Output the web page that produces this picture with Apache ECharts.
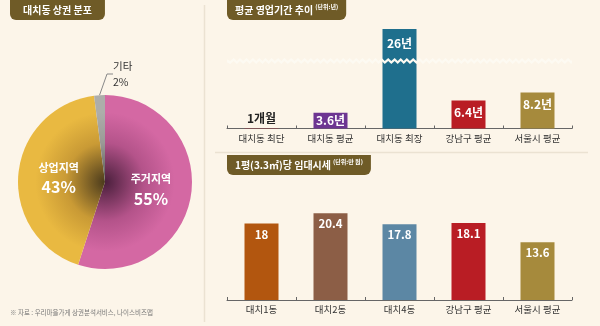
<!DOCTYPE html>
<html><head><meta charset="utf-8">
<script src="https://cdn.jsdelivr.net/npm/echarts@6/dist/echarts.min.js"></script>
<style>html,body{margin:0;padding:0;background:#fcf5e9;}#c{width:600px;height:326px;}</style>
</head><body><div id="c"></div>
<script>
const pieCategories = ['주거지역', '상업지역', '기타'];
const pieValues = [55, 43, 2];
const periodCategories = ['대치동 최단', '대치동 평균', '대치동 최장', '강남구 평균', '서울시 평균'];
const periodValues = [0.083, 3.6, 26, 6.4, 8.2];
const periodLabels = ['1개월', '3.6년', '26년', '6.4년', '8.2년'];
const rentCategories = ['대치1동', '대치2동', '대치4동', '강남구 평균', '서울시 평균'];
const rentValues = [18, 20.4, 17.8, 18.1, 13.6];

const F = "'Noto Sans CJK KR', sans-serif";
const BG = '#fcf5e9';
const periodColors = ['#c3262e', '#6d3592', '#1f6f8d', '#b91d24', '#a68a3c'];
const rentColors = ['#b2560f', '#8c5e46', '#5c87a4', '#b91d24', '#a68a3c'];
const pieColors = [['#4a1f3c', '#b4538a', '#d468a3'], ['#4a3a1c', '#c99a35', '#e9b941'], ['#5a5a55', '#9a9a96', '#adadaa']];

const chart = echarts.init(document.getElementById('c'), null, {renderer: 'canvas'});
const cx = 105, cy = 182, R = 87;

const titleBox = {backgroundColor: '#6f5b27', borderRadius: [0, 0, 6, 6]};
const option = {
  backgroundColor: BG,
  animation: false,
  title: [
    Object.assign({text: '대치동 상권 분포', left: 10, top: 0, padding: [4, 13, 4, 13],
      textStyle: {color: '#fff', fontSize: 10, fontWeight: 'bold', fontFamily: F, lineHeight: 12}}, titleBox),
    Object.assign({text: '평균 영업기간 추이{u|(단위:년)}', left: 227, top: 0, padding: [4, 8, 4, 8],
      textStyle: {color: '#fff', fontSize: 10, fontWeight: 'bold', fontFamily: F, lineHeight: 12,
        rich: {u: {fontSize: 6, color: '#fff', fontFamily: F, verticalAlign: 'top', padding: [0, 0, 4, 2]}}}}, titleBox),
    Object.assign({text: '1평(3.3㎡)당 임대시세{u|(단위:만 원)}', left: 227, top: 155, padding: [4, 8, 4, 8],
      textStyle: {color: '#fff', fontSize: 10, fontWeight: 'bold', fontFamily: F, lineHeight: 12,
        rich: {u: {fontSize: 6, color: '#fff', fontFamily: F, verticalAlign: 'top', padding: [0, 0, 4, 2]}}}}, titleBox),
    {text: '※ 자료 : 우리마을가게 상권분석서비스, 나이스비즈맵', left: 10, top: 309, padding: 0,
      textStyle: {color: '#777', fontSize: 6.5, fontWeight: 'normal', fontFamily: F}}
  ],
  graphic: [
    {type: 'line', shape: {x1: 204.5, y1: 5, x2: 204.5, y2: 322}, style: {stroke: '#ebe2d2', lineWidth: 1.5}, silent: true},
    {type: 'line', shape: {x1: 215, y1: 152.5, x2: 588, y2: 152.5}, style: {stroke: '#ebe2d2', lineWidth: 1.5}, silent: true}
  ],
  grid: [
    {left: 227, right: 28, top: 29, bottom: 197.5},
    {left: 227, right: 28, top: 198, bottom: 26}
  ],
  xAxis: [
    {type: 'category', gridIndex: 0, data: periodCategories,
      axisLine: {lineStyle: {color: '#666', width: 1}},
      axisTick: {show: true, inside: true, length: 3, lineStyle: {color: '#666'}},
      axisLabel: {color: '#333', fontSize: 9.5, fontFamily: F, margin: 5}},
    {type: 'category', gridIndex: 1, data: rentCategories,
      axisLine: {lineStyle: {color: '#666', width: 1}},
      axisTick: {show: true, inside: true, length: 3, lineStyle: {color: '#666'}},
      axisLabel: {color: '#333', fontSize: 9.5, fontFamily: F, margin: 5}}
  ],
  yAxis: [
    {type: 'value', gridIndex: 0, min: 0, max: 26,
      breaks: [{start: 15, end: 19, gap: '3%'}],
      breakArea: {show: true, itemStyle: {color: '#fdfaf2', borderColor: 'transparent', borderWidth: 0, opacity: 1},
        zigzagAmplitude: 1.5, zigzagMinSpan: 3, zigzagMaxSpan: 3.5, expandOnClick: false},
      axisLine: {show: false}, axisTick: {show: false}, axisLabel: {show: false}, splitLine: {show: false}},
    {type: 'value', gridIndex: 1, min: 0, max: 24,
      axisLine: {show: false}, axisTick: {show: false}, axisLabel: {show: false}, splitLine: {show: false}}
  ],
  series: [
    {
      type: 'pie', center: [cx, cy], radius: [0, R], startAngle: 90, clockwise: true,
      data: pieCategories.map((n, i) => ({
        name: n, value: pieValues[i],
        itemStyle: {color: {type: 'radial', x: cx, y: cy, r: R, global: true,
          colorStops: [{offset: 0, color: pieColors[i][0]}, {offset: 0.45, color: pieColors[i][1]}, {offset: 0.8, color: pieColors[i][2]}]}},
        label: i < 2 ? {position: 'inside', formatter: '{n|{b}}\n{p|{c}%}',
          rich: {n: {color: '#fff', fontSize: 11, fontWeight: 'bold', fontFamily: F, lineHeight: 19},
                 p: {color: '#fff', fontSize: 16, fontWeight: 'bold', fontFamily: F, lineHeight: 20}}}
          : {position: 'outside', formatter: '{n|{b}}\n{p|{c}%}', padding: [0, 0, 16, 0],
          rich: {n: {color: '#333', fontSize: 10.5, fontFamily: F, lineHeight: 16},
                 p: {color: '#333', fontSize: 10.5, fontFamily: F, lineHeight: 16}}},
        labelLine: i < 2 ? {show: false} : {show: true, length: 8, length2: 6, lineStyle: {color: '#888', width: 1}}
      })),
      labelLayout: function (p) {
        if (p.dataIndex === 2) return {x: 113, y: 82, align: 'left', verticalAlign: 'middle'};
        return {};
      },
      emphasis: {disabled: true}
    },
    {
      type: 'bar', xAxisIndex: 0, yAxisIndex: 0, barWidth: 34,
      data: periodValues.map((v, i) => ({
        value: v, itemStyle: {color: periodColors[i]},
        label: {show: true, formatter: periodLabels[i], fontFamily: F, fontWeight: 'bold', fontSize: 12,
          color: i === 0 ? '#222' : '#fff',
          position: i === 0 ? 'top' : (i === 1 ? 'inside' : 'insideTop'),
          distance: i === 0 ? 4 : (i === 2 ? 8 : 6)}
      })),
      emphasis: {disabled: true}
    },
    {
      type: 'bar', xAxisIndex: 1, yAxisIndex: 1, barWidth: 34,
      data: rentValues.map((v, i) => ({value: v, itemStyle: {color: rentColors[i]}})),
      label: {show: true, position: 'insideTop', distance: 5, color: '#fff', fontSize: 11.5, fontWeight: 'bold', fontFamily: F},
      emphasis: {disabled: true}
    }
  ]
};
chart.setOption(option);
</script></body></html>
